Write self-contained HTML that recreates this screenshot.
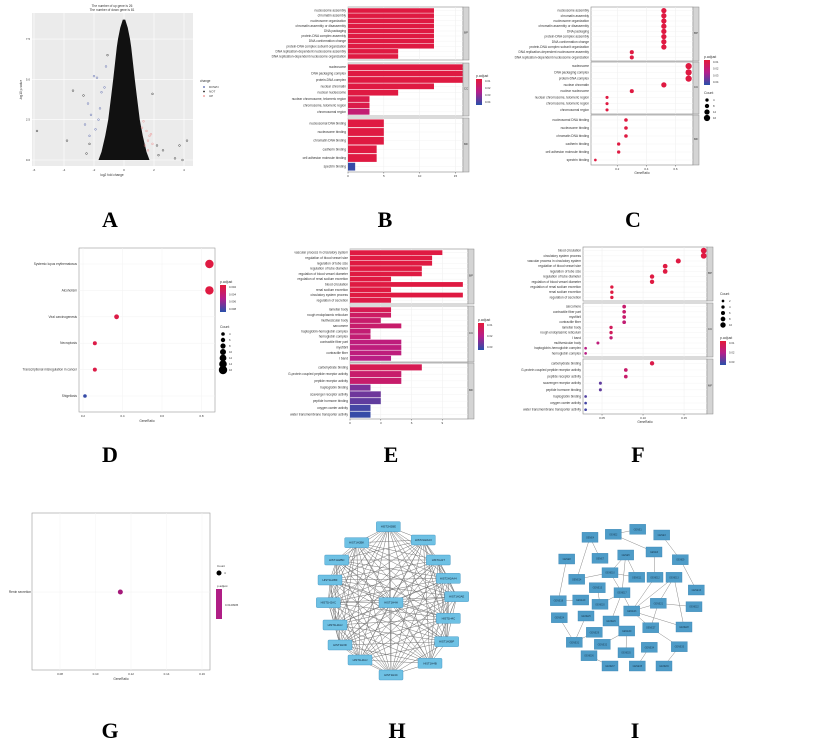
<!DOCTYPE html>
<html><head><meta charset="utf-8"><style>
html,body{margin:0;padding:0;background:#fff;}
svg{display:block;font-family:"Liberation Sans",sans-serif;}
.lab{font-family:"Liberation Serif",serif;font-weight:bold;font-size:22px;}
</style></head><body>
<svg id="fig" width="825" height="744" viewBox="0 0 825 744" xmlns="http://www.w3.org/2000/svg">
<text class="lab" x="110" y="227" text-anchor="middle">A</text>
<text class="lab" x="385" y="227" text-anchor="middle">B</text>
<text class="lab" x="633" y="227" text-anchor="middle">C</text>
<text class="lab" x="110" y="462" text-anchor="middle">D</text>
<text class="lab" x="391" y="462" text-anchor="middle">E</text>
<text class="lab" x="638" y="462" text-anchor="middle">F</text>
<text class="lab" x="110" y="738" text-anchor="middle">G</text>
<text class="lab" x="397" y="738" text-anchor="middle">H</text>
<text class="lab" x="635" y="738" text-anchor="middle">I</text>
</svg>
<script>
// ---------- DATA ----------
const aEnvY=[0,0.5,1.5,2.5,4,5,6,7,7.5,8.2,8.7];
const aEnvHalf=[1.7,1.5,1.25,1.05,0.85,0.72,0.6,0.48,0.4,0.25,0.08];
const aDownX=[-2.0,-1.8,-1.5,-2.4,-2.2,-1.3,-2.6,-1.6,-1.9,-1.2,-2.3,-1.7];
const aDownY=[5.2,5.1,4.2,3.5,2.8,4.5,2.2,3.2,1.9,5.8,1.5,2.5];
const aUpX=[1.3,1.5,1.7,1.6,1.9,1.4,1.8,1.2,1.6];
const aUpY=[2.4,1.8,1.5,1.2,1.0,0.9,1.6,2.0,0.6];
const aOutX=[-5.8,-3.8,-3.4,-2.7,-2.3,-1.1,1.9,2.3,3.7,4.2,3.4,3.9,-2.5,2.6,2.2];
const aOutY=[1.8,1.2,4.3,4.0,1.0,6.5,4.1,0.3,0.9,1.2,0.1,0.0,0.4,0.6,0.9];
const aXTicks=[-6,-4,-2,0,2,4];
const aYTicks=[0,2.5,5,7.5];
const aYTickLabels=["0.0","2.5","5.0","7.5"];
const bLabBP=["nucleosome assembly","chromatin assembly","nucleosome organization","chromatin assembly or disassembly","DNA packaging","protein-DNA complex assembly","DNA conformation change","protein-DNA complex subunit organization","DNA replication-dependent nucleosome assembly","DNA replication-dependent nucleosome organization"];
const bValBP=[12,12,12,12,12,12,12,12,7,7];
const bColBP=[0.05,0.05,0.05,0.05,0.05,0.05,0.05,0.05,0.05,0.05];
const bLabCC=["nucleosome","DNA packaging complex","protein-DNA complex","nuclear chromatin","nuclear nucleosome","nuclear chromosome, telomeric region","chromosome, telomeric region","chromosomal region"];
const bValCC=[16,16,16,12,7,3,3,3];
const bColCC=[0.05,0.05,0.05,0.05,0.05,0.1,0.1,0.35];
const bLabMF=["nucleosomal DNA binding","nucleosome binding","chromatin DNA binding","cadherin binding","cell adhesion molecule binding","spectrin binding"];
const bValMF=[5,5,5,4,4,1];
const bColMF=[0.05,0.05,0.05,0.05,0.05,0.95];
const bTicks=[0,5,10,15];
const cValBP=[0.52,0.52,0.52,0.52,0.52,0.52,0.52,0.52,0.30,0.30];
const cValCC=[0.69,0.69,0.69,0.52,0.30,0.13,0.13,0.13];
const cValMF=[0.26,0.26,0.26,0.21,0.21,0.05];
const cCntBP=[12,12,12,12,12,12,12,12,7,7];
const cCntCC=[16,16,16,12,7,3,3,3];
const cCntMF=[5,5,5,4,4,1];
const cTicks=[0.2,0.4,0.6];
const dLab=["Systemic lupus erythematosus","Alcoholism","Viral carcinogenesis","Necroptosis","Transcriptional misregulation in cancer","Shigellosis"];
const dVal=[0.84,0.84,0.37,0.26,0.26,0.21];
const dCnt=[16,16,7,5,5,4];
const dCol=[0.05,0.05,0.08,0.08,0.08,0.95];
const dTicks=[0.2,0.4,0.6,0.8];
const eLabBP=["vascular process in circulatory system","regulation of blood vessel size","regulation of tube size","regulation of tube diameter","regulation of blood vessel diameter","regulation of renal sodium excretion","blood circulation","renal sodium excretion","circulatory system process","regulation of secretion"];
const eValBP=[9,8,8,7,7,4,11,4,11,4];
const eColBP=[0.05,0.05,0.05,0.05,0.05,0.05,0.05,0.05,0.05,0.08];
const eLabCC=["lamellar body","rough endoplasmic reticulum","multivesicular body","sarcomere","haptoglobin-hemoglobin complex","hemoglobin complex","contractile fiber part","myofibril","contractile fiber","I band"];
const eValCC=[4,4,3,5,2,2,5,5,5,4];
const eColCC=[0.15,0.25,0.3,0.3,0.35,0.35,0.4,0.4,0.4,0.45];
const eLabMF=["carbohydrate binding","G-protein coupled peptide receptor activity","peptide receptor activity","haptoglobin binding","scavenger receptor activity","peptide hormone binding","oxygen carrier activity","water transmembrane transporter activity"];
const eValMF=[7,5,5,2,3,3,2,2];
const eColMF=[0.15,0.3,0.3,0.7,0.75,0.8,0.9,0.95];
const eTicks=[0,3,6,9];
const fLabBP=["blood circulation","circulatory system process","vascular process in circulatory system","regulation of blood vessel size","regulation of tube size","regulation of tube diameter","regulation of blood vessel diameter","regulation of renal sodium excretion","renal sodium excretion","regulation of secretion"];
const fValBP=[0.174,0.174,0.143,0.127,0.127,0.111,0.111,0.062,0.062,0.062];
const fCntBP=[11,11,9,8,8,7,7,4,4,4];
const fLabCC=["sarcomere","contractile fiber part","myofibril","contractile fiber","lamellar body","rough endoplasmic reticulum","I band","multivesicular body","haptoglobin-hemoglobin complex","hemoglobin complex"];
const fValCC=[0.077,0.077,0.077,0.077,0.061,0.061,0.061,0.045,0.030,0.030];
const fCntCC=[5,5,5,5,4,4,4,3,2,2];
const fColCC=[0.3,0.3,0.3,0.35,0.2,0.2,0.35,0.4,0.45,0.45];
const fLabMF=["carbohydrate binding","G-protein coupled peptide receptor activity","peptide receptor activity","scavenger receptor activity","peptide hormone binding","haptoglobin binding","oxygen carrier activity","water transmembrane transporter activity"];
const fValMF=[0.111,0.079,0.079,0.048,0.048,0.030,0.030,0.030];
const fCntMF=[7,5,5,3,3,2,2,2];
const fColMF=[0.1,0.3,0.3,0.8,0.8,0.85,0.9,0.9];
const fTicks=[0.05,0.10,0.15];
const fTickLabels=["0.05","0.10","0.15"];
const gLab=["Renin secretion"];
const gVal=[0.114];
const gTicks=[0.08,0.10,0.12,0.14,0.16];
// H network (node positions in zoomed-crop units)
const hLabels=["HIST2H2BE","HIST1H2BK","HIST2H2AA3","HIST1H2BD","HIST1H1T","HIST1H2BF","HIST2H2AA4","HIST1H2AC","HIST1H2AE","HIST1H2AJ","HIST1H4C","HIST1H3D","HIST1H2BP","HIST1H2AJ","HIST1H4B","HIST1H4C","HIST1H4H"];
const hNodeX=[325,230,430,170,475,150,505,145,530,165,505,180,500,240,450,333,333];
const hNodeY=[140,188,180,240,240,300,295,368,350,435,415,495,485,540,550,585,368];
const iNodeX=[263,190,335,120,227,312,150,50,391,180,260,315,372,80,142,439,216,25,92,150,325,432,245,28,108,183,302,402,133,230,73,157,388,298,228,117,180,262,342];
const iNodeY=[148,163,165,172,225,216,235,237,239,278,292,292,292,298,323,330,338,362,360,373,370,380,393,413,408,423,443,441,457,453,487,493,500,502,518,527,558,558,558];
const iEdgeA=[0,1,2,8,3,3,7,9,9,9,9,4,4,5,12,12,12,11,16,16,14,18,22,22,22,20,20,26,23,24,28,29,29,35,33,32,16,25];
const iEdgeB=[1,5,8,15,6,13,17,4,13,10,16,10,16,11,22,20,27,22,25,19,19,17,20,27,26,21,26,32,30,30,30,31,34,36,37,38,22,29];

// ---------- HELPERS ----------
const NS="http://www.w3.org/2000/svg";
const svg=document.getElementById('fig');
function el(tag,attrs,parent){const e=document.createElementNS(NS,tag);for(const k in attrs)e.setAttribute(k,attrs[k]);(parent||svg).appendChild(e);return e;}
function txt(x,y,s,size,anchor,parent,fill){const t=el('text',{x:x,y:y,'font-size':size,'text-anchor':anchor||'start',fill:fill||'#333'},parent);t.textContent=s;return t;}
function colorScale(t){
  const a=[228,26,58],m=[180,30,140],b=[40,80,170];let c;
  if(t<0.5){const u=t/0.5;c=a.map((v,i)=>Math.round(v+(m[i]-v)*u));}else{const u=(t-0.5)/0.5;c=m.map((v,i)=>Math.round(v+(b[i]-v)*u));}
  return 'rgb('+c.join(',')+')';}
function gradDef(id){const defs=el('defs',{});const g=el('linearGradient',{id:id,x1:0,y1:0,x2:0,y2:1},defs);
  el('stop',{offset:'0','stop-color':colorScale(0)},g);el('stop',{offset:'0.5','stop-color':colorScale(0.5)},g);el('stop',{offset:'1','stop-color':colorScale(1)},g);}
gradDef('cg');
function colorbar(x,y,h,title,labels){const g=el('g',{});
  
  
  txt(x,y-2,title,3.5,'start',g);el('rect',{x:x,y:y,width:6,height:h,fill:'url(#cg)'},g);
  labels.forEach((l,i)=>txt(x+9,y+3+i*(h-5)/(labels.length-1),l,2.8,'start',g));}
function sizeLegend(x,y,title,counts,rf){const g=el('g',{});
  
  
  txt(x,y,title,3.5,'start',g);counts.forEach((c,i)=>{el('circle',{cx:x+3,cy:y+6+i*6,r:rf(c),fill:'#000'},g);txt(x+9,y+7+i*6,String(c),2.8,'start',g);});}

function facet(name,x0,x1,xmin,xmax,panels,ticks,tickLabels,type,xtitle){
  const g=el('g',{});
  
  
  const sx=v=>x0+(v-xmin)/(xmax-xmin)*(x1-x0);
  panels.forEach(p=>{
    el('rect',{x:x0,y:p.y0,width:x1-x0,height:p.y1-p.y0,fill:'#fff',stroke:'#888','stroke-width':0.6},g);
    ticks.forEach(t=>el('line',{x1:sx(t),x2:sx(t),y1:p.y0,y2:p.y1,stroke:'#eee','stroke-width':0.5},g));
    el('rect',{x:x1,y:p.y0,width:6,height:p.y1-p.y0,fill:'#d4d4d4',stroke:'#888','stroke-width':0.5},g);
    txt(x1+3,(p.y0+p.y1)/2,p.tag,3,'middle',g);
    const n=p.vals.length,row=(p.y1-p.y0-2)/n;
    p.vals.forEach((v,i)=>{
      const cy=p.y0+1+row*(i+0.5);
      txt(x0-2,cy+1,p.labels?p.labels[i]:'',3.2,'end',g);
      el('line',{x1:x0,x2:x1,y1:cy,y2:cy,stroke:'#f0f0f0','stroke-width':0.4},g);
      if(type==='bar'){
        const r=el('rect',{x:sx(0),y:cy-row*0.45,width:sx(v)-sx(0),height:row*0.9,fill:colorScale(p.cols[i])},g);
        
        
      }else{
        const c=el('circle',{cx:sx(v),cy:cy,r:p.rf(p.cnt[i]),fill:colorScale(p.cols?p.cols[i]:0.05)},g);
        
        
      }
    });
  });
  const yb=panels[panels.length-1].y1;
  ticks.forEach((t,i)=>{el('line',{x1:sx(t),x2:sx(t),y1:yb,y2:yb+1.5,stroke:'#333','stroke-width':0.4},g);txt(sx(t),yb+5,tickLabels[i],3,'middle',g);});
  if(xtitle)txt((x0+x1)/2,yb+9,xtitle,3.2,'middle',g);
}

// ---------- PANEL A ----------
(function(){
  const g=el('g',{});
  
  
  const X0=32,X1=193,Y0=13,Y1=166;
  const sx=v=>124+v*15, sy=v=>160-v*16.13;
  el('rect',{x:X0,y:Y0,width:X1-X0,height:Y1-Y0,fill:'#ebebeb'},g);
  aXTicks.forEach(t=>el('line',{x1:sx(t),x2:sx(t),y1:Y0,y2:Y1,stroke:'#fff','stroke-width':0.6},g));
  aYTicks.forEach(t=>el('line',{x1:X0,x2:X1,y1:sy(t),y2:sy(t),stroke:'#fff','stroke-width':0.6},g));
  let d='M'+sx(-aEnvHalf[0])+','+sy(aEnvY[0]);
  aEnvY.forEach((y,i)=>d+=' L'+sx(-aEnvHalf[i])+','+sy(y));
  for(let i=aEnvY.length-1;i>=0;i--)d+=' L'+sx(aEnvHalf[i])+','+sy(aEnvY[i]);
  const env=el('path',{d:d+'Z',fill:'#111'},g);
  
  
  aOutX.forEach((x,i)=>el('circle',{cx:sx(x),cy:sy(aOutY[i]),r:0.9,fill:'none',stroke:'#222','stroke-width':0.4},g));
  aDownX.forEach((x,i)=>el('circle',{cx:sx(x),cy:sy(aDownY[i]),r:0.9,fill:'none',stroke:'#4a5aa8','stroke-width':0.4},g));
  aUpX.forEach((x,i)=>el('circle',{cx:sx(x),cy:sy(aUpY[i]),r:0.9,fill:'none',stroke:'#e88','stroke-width':0.4},g));
  aXTicks.forEach(t=>txt(sx(t),Y1+5,String(t),3,'middle',g));
  aYTicks.forEach((t,i)=>txt(X0-2,sy(t)+1,aYTickLabels[i],3,'end',g));
  txt(112,Y1+10,'log2 fold change',3.2,'middle',g);
  const yl=txt(22,90,'-log10 p-value',3.2,'middle',g);yl.setAttribute('transform','rotate(-90 22 90)');
  txt(112,7,'The number of up gene is 26',3.2,'middle',g);
  txt(112,11,'The number of down gene is 81',3.2,'middle',g);
  txt(200,82,'change',3.2,'start',g);
  [['DOWN','#4a5aa8'],['NOT','#222'],['UP','#e88']].forEach((c,i)=>{el('circle',{cx:204,cy:87+i*4.5,r:0.9,fill:c[1]},g);txt(209,88+i*4.5,c[0],3,'start',g);});
})();

facet('go-bar-chart-b',348,463,0,16.05,[
 {y0:7,y1:60,labels:bLabBP,vals:bValBP,cols:bColBP,tag:'BP'},
 {y0:63,y1:116,labels:bLabCC,vals:bValCC,cols:bColCC,tag:'CC'},
 {y0:118,y1:172,labels:bLabMF,vals:bValMF,cols:bColMF,tag:'MF'}],bTicks,bTicks.map(String),'bar','');
colorbar(476,79,26,'p.adjust',['0.01','0.02','0.03','0.04']);

const rC=c=>1.2+c*0.12;
facet('go-dot-plot-c',591,693,0.02,0.72,[
 {y0:7,y1:61,labels:bLabBP,vals:cValBP,cnt:cCntBP,rf:rC,tag:'BP'},
 {y0:62,y1:114,labels:bLabCC,vals:cValCC,cnt:cCntCC,rf:rC,tag:'CC'},
 {y0:115,y1:165,labels:bLabMF,vals:cValMF,cnt:cCntMF,cols:[0.05,0.05,0.05,0.05,0.05,0.05],rf:rC,tag:'MF'}],cTicks,cTicks.map(String),'dot','GeneRatio');
colorbar(704,60,25,'p.adjust',['0.01','0.02','0.03','0.04']);
sizeLegend(704,94,'Count',[4,8,12,16],rC);

(function(){
  const g=el('g',{});
  
  
  const X0=79,X1=215,Y0=248,Y1=412;
  const sx=v=>83+(v-0.2)*197.5;
  el('rect',{x:X0,y:Y0,width:X1-X0,height:Y1-Y0,fill:'#fff',stroke:'#999','stroke-width':0.6},g);
  dTicks.forEach(t=>{el('line',{x1:sx(t),x2:sx(t),y1:Y0,y2:Y1,stroke:'#f2f2f2','stroke-width':0.5},g);txt(sx(t),Y1+5,String(t),3,'middle',g);});
  dLab.forEach((l,i)=>{const cy=Y0+16+i*26.4;
    el('line',{x1:X0,x2:X1,y1:cy,y2:cy,stroke:'#f2f2f2','stroke-width':0.5},g);
    txt(X0-2,cy+1,l,3.2,'end',g);
    const c=el('circle',{cx:sx(dVal[i]),cy:cy,r:1+dCnt[i]*0.2,fill:colorScale(dCol[i])},g);
    
    });
  txt(147,Y1+10,'GeneRatio',3.2,'middle',g);
})();
colorbar(220,285,27,'p.adjust',['0.002','0.004','0.006','0.008']);
sizeLegend(220,328,'Count',[4,6,8,10,12,14,16],c=>1+c*0.2);

facet('go-bar-chart-e',350,468,0,11.5,[
 {y0:249,y1:304,labels:eLabBP,vals:eValBP,cols:eColBP,tag:'BP'},
 {y0:306,y1:362,labels:eLabCC,vals:eValCC,cols:eColCC,tag:'CC'},
 {y0:363,y1:419,labels:eLabMF,vals:eValMF,cols:eColMF,tag:'MF'}],eTicks,eTicks.map(String),'bar','');
colorbar(478,323,27,'p.adjust',['0.01','0.02','0.03']);

const rF=c=>1+c*0.17;
facet('go-dot-plot-f',583,707,0.0268,0.1780,[
 {y0:247,y1:301,labels:fLabBP,vals:fValBP,cnt:fCntBP,cols:[0.05,0.05,0.05,0.05,0.05,0.05,0.05,0.05,0.05,0.05],rf:rF,tag:'BP'},
 {y0:303,y1:357,labels:fLabCC,vals:fValCC,cnt:fCntCC,cols:fColCC,rf:rF,tag:'CC'},
 {y0:359,y1:414,labels:fLabMF,vals:fValMF,cnt:fCntMF,cols:fColMF,rf:rF,tag:'MF'}],fTicks,fTickLabels,'dot','GeneRatio');
sizeLegend(720,295,'Count',[2,4,6,8,10],rF);
colorbar(720,341,24,'p.adjust',['0.01','0.02','0.03']);

(function(){
  const g=el('g',{});
  
  
  const X0=32,X1=210,Y0=513,Y1=670;
  const sx=v=>60+(v-0.08)*1775;
  el('rect',{x:X0,y:Y0,width:X1-X0,height:Y1-Y0,fill:'#fff',stroke:'#999','stroke-width':0.6},g);
  gTicks.forEach(t=>{el('line',{x1:sx(t),x2:sx(t),y1:Y0,y2:Y1,stroke:'#f4f4f4','stroke-width':0.5},g);txt(sx(t),Y1+5,t.toFixed(2),3,'middle',g);});
  gLab.forEach((l,i)=>{const cy=592;
    el('line',{x1:X0,x2:X1,y1:cy,y2:cy,stroke:'#f0f0f0','stroke-width':0.5},g);
    txt(X0-1,cy+1,l,3.2,'end',g);
    const c=el('circle',{cx:sx(gVal[i]),cy:cy,r:2.5,fill:'#a5197a'},g);
    
    });
  txt(121,Y1+10,'GeneRatio',3.2,'middle',g);
  txt(217,567,'Count',3,'start',g);el('circle',{cx:219,cy:573,r:2.5,fill:'#000'},g);txt(224,574,'4',3,'start',g);
  txt(217,587,'p.adjust',3,'start',g);el('rect',{x:216,y:589,width:6,height:30,fill:'#b01e86'},g);txt(225,606,'0.0120905',2.8,'start',g);
})();

(function(){
  const g=el('g',{});
  
  
  const px=v=>280+v/3, py=v=>480+v/3;
  const n=hNodeX.length;
  for(let i=0;i<n;i++)for(let j=i+1;j<n;j++)
    el('line',{x1:px(hNodeX[i]),y1:py(hNodeY[i]),x2:px(hNodeX[j]),y2:py(hNodeY[j]),stroke:'#777','stroke-width':0.5},g);
  hNodeX.forEach((x,i)=>{const cx=px(x),cy=py(hNodeY[i]);
    const r=el('rect',{x:cx-12,y:cy-5,width:24,height:10,rx:1,fill:'#6ec1e4',stroke:'#3a8fbf','stroke-width':0.4},g);
    
    
    txt(cx,cy+1,hLabels[i],2.8,'middle',g,'#123');});
})();

(function(){
  const g=el('g',{});
  
  
  const px=v=>550+v/3, py=v=>480+v/3;
  iEdgeA.forEach((a,k)=>{const b=iEdgeB[k];el('line',{x1:px(iNodeX[a]),y1:py(iNodeY[a]),x2:px(iNodeX[b]),y2:py(iNodeY[b]),stroke:'#8a8a8a','stroke-width':0.5},g);});
  iNodeX.forEach((x,i)=>{const r=el('rect',{x:px(x)-8,y:py(iNodeY[i])-5,width:16,height:10,fill:'#4e9cc8',stroke:'#3a86b4','stroke-width':0.4},g);
    
    
    txt(px(x),py(iNodeY[i])+1,'GENE'+(i+1),2.4,'middle',g,'#1b3d55');});
})();
</script>
</body></html>
